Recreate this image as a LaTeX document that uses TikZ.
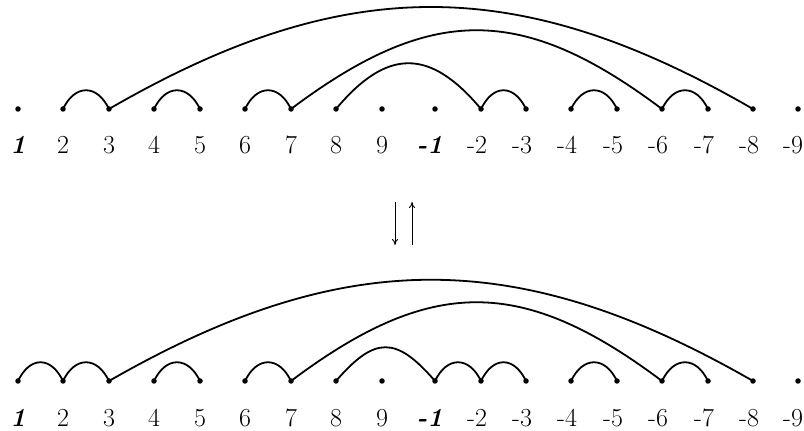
\documentclass[tikz,border=0pt]{standalone}
\usetikzlibrary{arrows.meta}
\begin{document}
\begin{tikzpicture}[x=1pt,y=1pt,
  dot/.style={circle,fill,inner sep=0pt,minimum size=5.5pt},
  lab/.style={font=\fontsize{26}{30}\selectfont,anchor=base,inner sep=0pt},
  arcline/.style={line width=1.8pt},
  updown/.style={line width=0.9pt,-{To[length=6pt,width=6pt]}}]
\useasboundingbox (0,0) rectangle (804,431);
% dots
\foreach \x [count=\i] in {18,63,109,154,200,245,291,336,382,435,481,526,571,617,662,708,753,798}{
  \node[dot] (t\i) at (\x,322) {};
  \node[dot] (b\i) at (\x,50) {};
}
% labels (digit centred under its dot, hyphen hanging to the left)
\foreach \x/\l [count=\i] in {18/{\textbf{\textit{1}}},63/2,109/3,154/4,200/5,245/6,291/7,336/8,382/9,
  435/{\llap{\textbf{\textit{-}}}\textbf{\textit{1}}},481/{\llap{-}2},526/{\llap{-}3},571/{\llap{-}4},617/{\llap{-}5},
  662/{\llap{-}6},708/{\llap{-}7},753/{\llap{-}8},797/{\llap{-}9}}{
  \node[lab] (lt\i) at (\x,277) {\l};
  \node[lab] (lb\i) at (\x,4) {\l};
}
% top small arcs
\foreach \a/\b in {2/3,4/5,6/7,11/12,13/14,15/16}{
  \draw[arcline] (t\a.center) .. controls +(12,25) and +(-12,25) .. (t\b.center);
}
% top big arcs
\draw[arcline] (t3.center) .. controls +(235,136) and +(-235,136) .. (t17.center);
\draw[arcline] (t7.center) .. controls +(140,105) and +(-140,105) .. (t15.center);
\draw[arcline] (t8.center) .. controls +(51,61) and +(-51,61) .. (t11.center);
% bottom small arcs
\foreach \a/\b in {1/2,2/3,4/5,6/7,10/11,11/12,13/14,15/16}{
  \draw[arcline] (b\a.center) .. controls +(12,25) and +(-12,25) .. (b\b.center);
}
% bottom big arcs
\draw[arcline] (b3.center) .. controls +(235,135) and +(-235,135) .. (b17.center);
\draw[arcline] (b7.center) .. controls +(140,105) and +(-140,105) .. (b15.center);
\draw[arcline] (b8.center) .. controls +(39,45) and +(-39,45) .. (b10.center);
% arrows
\coordinate (d1) at (395,229);
\coordinate (d2) at (395,186);
\coordinate (u1) at (412,186);
\coordinate (u2) at (412,229);
\draw[updown] (d1) -- (d2);
\draw[updown] (u1) -- (u2);
\end{tikzpicture}
\end{document}
